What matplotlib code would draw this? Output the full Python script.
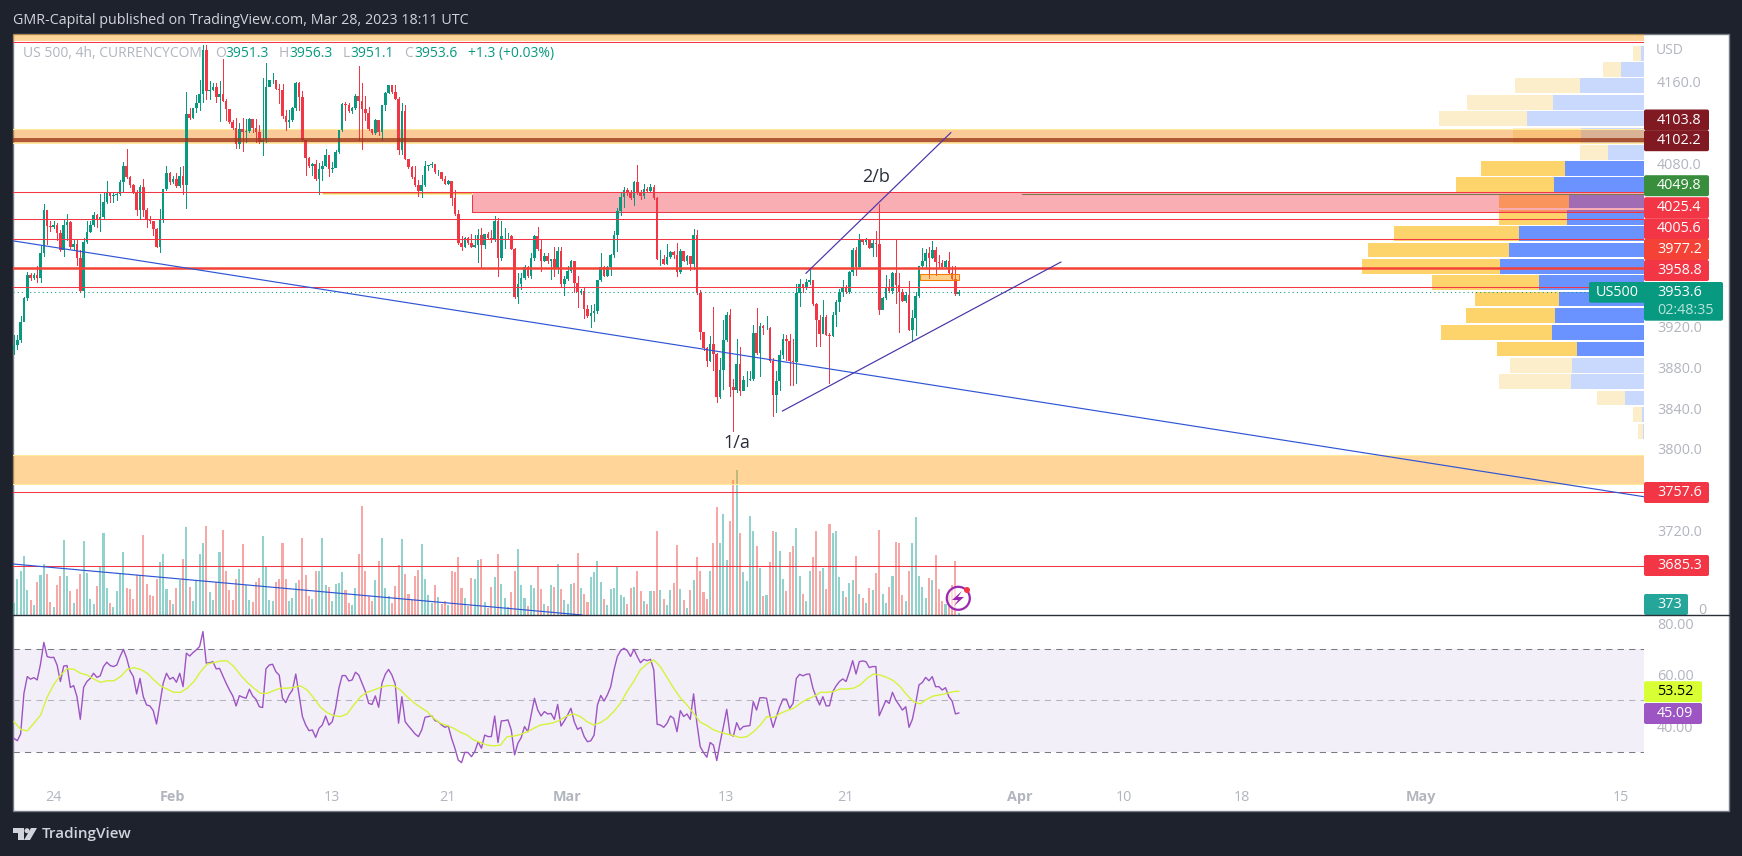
"""US 500 4h chart with volume profile and RSI, TradingView look."""

import matplotlib
matplotlib.use("Agg")
import matplotlib.pyplot as plt
import numpy as np
from matplotlib.patches import Circle, FancyBboxPatch, Polygon, Rectangle

plt.rcParams["font.family"] = "Open Sans"

W, H = 1742, 856

# OHLC, one value per 4h bar
first_open = 3897
closes = [
    3902, 3907, 3924, 3948, 3970.5, 3967.5, 3970.5, 3968, 3992, 4034,
    4019, 4018, 4020, 4012, 3995, 4020, 4022, 3998, 4001, 3987,
    3955, 4003, 4013, 4020, 4029, 4024, 4027, 4042, 4051.5, 4048,
    4048.5, 4050, 4062, 4077, 4067, 4059, 4052, 4034, 4057, 4034,
    4024, 4023, 4016, 3998, 4024, 4055, 4070, 4062, 4065, 4058,
    4068, 4059, 4128, 4124, 4134, 4139, 4148, 4191, 4151, 4152,
    4155, 4145, 4148, 4141, 4133, 4120, 4115, 4099, 4114, 4111,
    4112, 4123, 4115, 4111, 4101, 4103, 4155, 4162, 4162, 4153,
    4152, 4126, 4120, 4122, 4134, 4159, 4145, 4103, 4085, 4077,
    4079, 4065, 4074, 4077, 4088, 4074, 4075, 4091, 4113, 4138,
    4137, 4131, 4134, 4146, 4141, 4133, 4129, 4114, 4110, 4122,
    4111, 4137, 4149, 4157, 4150, 4143, 4093, 4131, 4084, 4076,
    4067, 4059, 4053, 4059, 4077, 4078, 4079, 4071, 4071, 4065,
    4060, 4063, 4046, 4030, 4002, 3998, 4007, 4002, 3998, 4000,
    4010, 4000, 4011, 4007, 4006, 4023, 3987, 4009, 4009, 4009,
    3996, 3949, 3962, 3968, 3978, 3970, 3987, 4009, 3996, 3984,
    3989, 3984, 3986, 3977, 3994, 3962, 3967, 3974, 3984, 3963,
    3954, 3955, 3937, 3930, 3933, 3935, 3966, 3978, 3970, 3978,
    3990, 4010, 4033, 4047, 4054, 4051, 4046, 4062, 4051, 4048,
    4055, 4053, 4057, 4046, 3986, 3986, 3981, 3988, 3993, 3990,
    3973, 3994, 3984, 3989, 3981, 4010, 3953, 3915, 3899, 3886,
    3903, 3893, 3851, 3877, 3907, 3931, 3861, 3858, 3883, 3857,
    3868, 3868, 3869, 3914, 3894, 3921, 3919, 3919, 3886, 3853,
    3867, 3892, 3908, 3906, 3886, 3885, 3953, 3962, 3959, 3964,
    3966, 3942, 3926, 3913, 3929, 3912, 3911, 3931, 3944.5, 3954,
    3959, 3954, 3973, 3995, 3978, 4005, 4003, 4005, 3997, 4002,
    4001, 3936, 3948, 3959, 3955, 3972, 3961, 3954, 3945, 3951,
    3917, 3928, 3950, 3979, 3984, 3992, 3987, 3995, 3983, 3982,
    3978, 3984, 3972, 3967, 3952, 3953.6,
]
highs = [
    3912, 3912, 3930, 3949, 3973, 3972, 3972, 3979, 3999, 4040,
    4034, 4023, 4023, 4021, 4015, 4025, 4030, 4023, 4005, 4005,
    3995, 4007, 4023, 4023, 4032, 4030, 4050, 4052, 4063, 4050,
    4051, 4051, 4064, 4081, 4094, 4068, 4060, 4054, 4059, 4065,
    4036, 4028, 4023, 4017, 4035, 4055, 4077, 4071, 4068, 4070,
    4076, 4077, 4150, 4134, 4134, 4147, 4162, 4196, 4196, 4161,
    4159, 4159, 4161, 4182, 4143, 4130, 4122, 4124, 4119, 4124,
    4123, 4124, 4122, 4123, 4118, 4164, 4178, 4162, 4168, 4162,
    4158, 4158, 4132, 4132, 4135, 4160, 4160, 4151, 4103, 4086,
    4080, 4083, 4080, 4082, 4094, 4088, 4081, 4093, 4113, 4139,
    4140, 4139, 4135, 4148, 4175, 4159, 4146, 4135, 4114, 4123,
    4121, 4137, 4150, 4157, 4157, 4157, 4145, 4139, 4137, 4084,
    4077, 4077, 4064, 4069, 4082, 4078, 4081, 4079, 4073, 4071,
    4068, 4064, 4063, 4054, 4034, 4009, 4008, 4008, 4011, 4010,
    4016, 4017, 4011, 4013, 4015, 4028, 4026, 4023, 4017, 4012,
    4010, 3997, 3972, 3972, 3980, 3979, 3992, 4010, 4018, 4005,
    3992, 3992, 3986, 3998, 3998, 3998, 3970, 3979, 3985, 3983,
    3970, 3957, 3959, 3941, 3941, 3942, 3966, 3992, 3979, 3979,
    3991, 4014, 4036, 4051, 4057, 4056, 4054, 4063, 4078, 4054,
    4060, 4057, 4060, 4059, 4047, 3995, 3990, 4001, 3994, 3994,
    4002, 3996, 3994, 3990, 3988, 4016, 4015, 3956, 3912, 3900,
    3911, 3939, 3894, 3889, 3926, 3934, 3937, 3869, 3908, 3900,
    3871.5, 3876, 3876, 3922, 3938, 3923, 3922, 3930, 3920, 3889,
    3876, 3897, 3913, 3912, 3913, 3908, 3962, 3967, 3962, 3967,
    3977, 3966, 3943, 3931, 3946, 3931, 3914, 3934, 3946, 3957,
    3966, 3961, 3974, 3997, 3998, 4011, 4006, 4007, 4005, 4005,
    4014, 4040, 3949, 3971, 3967, 3973, 4005, 3972, 3957, 3954,
    3965, 3936, 3954, 3979, 3997, 3996, 3998, 4004, 3998, 3990,
    3985, 3985, 3993, 3979, 3979, 3956.3,
]
lows = [
    3893, 3898, 3905, 3930, 3946, 3966, 3967, 3964, 3964, 3989,
    4001, 4014, 4017, 4005, 3994, 3989, 4005, 3997, 3996, 3980,
    3954, 3949, 4002, 4013, 4019, 4018, 4014, 4026, 4041, 4042,
    4042, 4044, 4049, 4053, 4066, 4057, 4051, 4029, 4025, 4028,
    4018, 4021, 4010, 3998, 3993, 4022, 4054, 4060, 4061, 4057,
    4057, 4050, 4036, 4123, 4124, 4130, 4132, 4140, 4143, 4143,
    4152, 4140, 4121, 4141, 4122, 4119, 4114, 4095, 4095, 4092,
    4101, 4111, 4111, 4101, 4100, 4088, 4101, 4157, 4159, 4153,
    4139, 4124, 4113, 4116, 4121, 4132, 4132, 4102, 4069, 4076,
    4069, 4064, 4050, 4064, 4077, 4068, 4071, 4076, 4090, 4112,
    4122, 4130, 4129, 4133, 4103, 4094, 4122, 4113, 4109, 4109,
    4108, 4103, 4132, 4149, 4149, 4143, 4089, 4089, 4084, 4075,
    4066, 4058, 4048, 4047, 4058, 4073, 4076, 4070, 4069, 4064,
    4060, 4060, 4039, 4029, 4001, 3995, 3998, 4001, 3998, 3998,
    3983, 3978, 3997, 4006, 4003, 4004, 3970, 3985, 3997, 4007,
    3996, 3948, 3943, 3957, 3967, 3969, 3968, 3985, 3995, 3974,
    3984, 3982, 3967, 3970, 3972, 3960, 3951, 3966, 3973, 3954,
    3939, 3952, 3928, 3929, 3920, 3925, 3933, 3965, 3970, 3970,
    3971, 3988, 3994, 4029, 4037, 4049, 4045, 4039, 4050, 4045,
    4046, 4053, 4052, 4045, 3986, 3980, 3981, 3981, 3987, 3987,
    3970, 3972, 3984, 3981, 3975, 3976, 3952, 3908, 3897, 3881,
    3886, 3877, 3846, 3850, 3859, 3906, 3852, 3818, 3856, 3853,
    3861, 3862, 3868, 3868, 3893, 3872, 3913, 3918, 3885, 3832,
    3836, 3858, 3889, 3887, 3863, 3863, 3865, 3940, 3954, 3957,
    3962, 3941, 3901, 3901, 3928, 3912, 3865, 3911, 3921, 3935,
    3950, 3953, 3953, 3971, 3971, 3978, 4001, 4001, 3997, 3989,
    3989, 3932, 3937, 3947, 3954, 3953, 3943, 3915, 3945, 3944,
    3917, 3906, 3912, 3949, 3977, 3977, 3968, 3987, 3971, 3978,
    3977, 3978, 3972, 3966, 3951, 3951.1,
]
volumes = [
    1750, 5400, 6600, 8850, 3750, 2250, 1500, 4950, 6000, 7650,
    6150, 1950, 1200, 4500, 5850, 11250, 5850, 3600, 1800, 3900,
    6150, 11100, 6300, 2400, 1650, 4350, 7350, 12300, 4050, 1800,
    1200, 3600, 6150, 9450, 4050, 3900, 2400, 6000, 6000, 12000,
    4650, 3000, 2850, 5400, 7950, 9150, 3900, 2250, 1650, 4050,
    5250, 8400, 13200, 4200, 2100, 5250, 9150, 10800, 13350, 3450,
    2250, 4950, 9450, 12750, 6600, 3750, 2250, 5400, 6900, 10650,
    4500, 2250, 1950, 4950, 5550, 11850, 7350, 2250, 2100, 4950,
    5400, 10800, 5400, 2100, 2550, 4800, 5250, 11550, 6000, 2850,
    2400, 6600, 6600, 11550, 4500, 4200, 2100, 4650, 4800, 6450,
    3750, 1800, 1500, 4050, 9150, 16350, 6600, 2850, 2100, 5250,
    8100, 11550, 4050, 2850, 1800, 4350, 7500, 11400, 6150, 3150,
    2250, 5850, 6750, 10650, 5400, 3000, 1800, 4500, 2700, 1650,
    2100, 1500, 6600, 6450, 8700, 4050, 2550, 1350, 5550, 5400,
    8250, 8400, 1950, 1050, 4200, 5700, 9150, 4650, 2550, 1250,
    3450, 6600, 9900, 4500, 2550, 1350, 4500, 4050, 7350, 3900,
    1650, 1350, 4500, 4200, 7650, 3900, 2250, 1650, 4650, 4800,
    9300, 4050, 3150, 1950, 5700, 6450, 8100, 4950, 2400, 1500,
    3900, 4050, 7350, 3000, 2700, 1650, 4050, 4200, 6600, 3600,
    2100, 1650, 3600, 3600, 12600, 3750, 2400, 1500, 3750, 4800,
    10500, 3900, 2250, 1050, 3750, 5250, 8700, 6600, 3450, 2400,
    6600, 10800, 16200, 10800, 15150, 8250, 14100, 20250, 21750, 12300,
    6450, 5100, 14850, 12600, 10350, 7050, 2850, 3000, 7950, 12600,
    12450, 9600, 5400, 3600, 9450, 10350, 13050, 5850, 3150, 2100,
    6600, 8700, 12600, 6600, 7050, 3900, 13650, 12300, 12600, 5700,
    3600, 2700, 4800, 5250, 8850, 3150, 2550, 1800, 4050, 3750,
    6300, 12750, 3150, 1800, 4200, 5850, 10950, 10800, 3000, 2100,
    6600, 10800, 14700, 5850, 4200, 2550, 5550, 5250, 9000, 3900,
    2100, 1650, 3000, 4500, 8100, 373,
]
rsi_values = [
    35.2, 34.3, 36.9, 52.7, 59.2, 58.2, 58.8, 57.9, 64.1, 72.5,
    67, 66.6, 66.7, 63.7, 57.3, 63.3, 63.5, 55, 55.7, 51.4,
    42.6, 55, 57.3, 58.5, 60.5, 58.9, 59.5, 63.1, 64.8, 63.5,
    63.1, 63.7, 67, 69.8, 66.3, 61.4, 59.2, 52.5, 58.5, 51.4,
    48.2, 47.8, 46, 40.8, 48.8, 56.6, 60.5, 58.2, 58.9, 57,
    60.5, 55.3, 68.3, 67.2, 68.5, 69.6, 70.9, 76.7, 64.4, 64.6,
    65, 62.2, 62.4, 59.5, 56.6, 54, 51.7, 47.8, 51.8, 51.2,
    50.8, 54.3, 51.7, 50.4, 47.5, 47.2, 62.2, 63.7, 64, 61.1,
    59.8, 50.8, 49.1, 52.1, 54, 60.2, 52.1, 43.7, 40.4, 38.2,
    38.5, 35.6, 39.1, 40.4, 43.9, 40.4, 41.7, 46.9, 54.7, 59.6,
    59.6, 57.5, 57.9, 60.9, 59.8, 56.6, 53.4, 48.8, 48.4, 51.7,
    47.3, 56.6, 60.1, 62, 59.8, 56.3, 41.1, 51.4, 41.7, 40,
    38.5, 36.9, 35.9, 38.5, 43.4, 43.7, 44, 42.1, 41.7, 40.4,
    39.5, 40, 35.2, 31.4, 26.8, 25.8, 29.8, 29.7, 28.1, 30.1,
    33.9, 31.4, 36.5, 35.9, 35.9, 43.9, 33.6, 42,
    42.1, 42.4, 38.5, 28.8, 33.3, 35.5, 39.8, 37.8, 44.3, 50.8,
    46.2, 43.9, 45.6, 44.7, 44.9, 42.6, 48.4, 40, 42, 44.3,
    46.9, 41.7, 38.7, 39.5, 35.9, 33.9, 34.3, 36.5, 48.2, 51.9,
    49.7, 52.1, 55.3, 61.8, 67, 69.3, 70.2, 69.3, 67, 69.8,
    67, 64.6, 65.9, 65.4, 65.9, 61.8, 40.7, 40.4, 39.5, 41.1,
    43.9, 43, 37.8, 46, 43.7, 44.7, 42.6, 52.5, 41.1, 32,
    29.7, 27.9, 33.6, 32.6, 26.6, 33.6, 39.8, 46.5, 36.8, 36.1,
    41.3, 38.5, 39.8, 40, 40.2, 49.5, 46.2, 51, 51, 50.8,
    44.3, 39.5, 43.7, 47.5, 50.5, 50.4, 46.9, 48.8, 58.5, 60.1,
    59.5, 60.1, 60.2, 54.7, 51.2, 48.2, 51.4, 47.8, 47.9, 53.4,
    55.6, 57.3, 58.3, 57.3, 61.1, 65.4, 60.2, 65, 65.3, 65,
    62.7, 63.1, 63.1, 44, 46.9, 49.9, 48.8, 53.1, 50.1, 48.2,
    46.2, 47.5, 39.5, 42.6, 48.8, 56, 56.9, 58.9, 57.6, 59.2,
    55.3, 55.3, 54, 54.9, 51.4, 49.7, 44.7, 45.09,
]
# RSI average, read every second bar
rsi_ma_values = [
    41.7, 38.7, 38.1, 41.1, 44.3, 51.4, 56.2, 59.8, 62.3, 62,
    60.5, 59.8, 58.2, 57, 57.6, 57.6, 59.2, 62, 62.7, 62,
    60.5, 57.9, 55.6, 54.3, 53.1, 53.1, 54.7, 57.3, 61.1, 64.1,
    64.6, 65.3, 65.3, 63.1, 59.8, 57, 54.7, 52.7, 52.7, 53.8,
    54.7, 54.7, 55, 55.6, 54, 50.8, 47.3, 45.2, 44, 43.7,
    44.7, 48.2, 51.4, 53.1, 54, 55, 55.7, 55.7, 54, 51.4,
    49.1, 47.3, 45.6, 43, 41.1, 40.2, 39.1, 37.6, 36.5, 34.6,
    33.6, 32.6, 32.3, 32.6,
    35.9, 36.1, 36.7, 37.8, 39.1, 40.4, 40.8, 41.3, 42.4, 44,
    44.7, 43.7, 41.7, 40.4, 41.3, 43, 45.6, 48.8, 53.4, 57.3,
    61.8, 64.1, 65.7, 63.1, 58.9, 54.7, 51, 48.2, 44.9, 41.5,
    40.2, 38.5, 37.6, 36.9, 36.3, 35.5, 35.9, 37.8, 40.4, 43.7,
    43.3, 44.9, 46, 46.9, 48.8, 50.4, 51.4, 53.1, 53.1, 53.4,
    54.4, 54.4, 54.7, 56, 58.5, 60.2, 59.8, 58.9, 57.6, 55.3,
    52.1, 49.5, 48.6, 50.4, 51.7, 52.1, 52.7, 53.4, 53.52,
]

# Volume profile rows, top to bottom
vp_prices = [
    4188, 4172, 4156, 4140, 4124, 4107, 4091, 4075, 4059, 4043, 4027, 4011,
    3995, 3979, 3963, 3947, 3931, 3914, 3898, 3882, 3866, 3850, 3834, 3817,
]
vp_up = [3, 23, 64, 91, 117, 63, 36, 79, 90, 75, 77, 125,
         135, 144, 105, 85, 89, 92, 67, 72, 73, 19, 2, 1]
vp_down = [8, 18, 65, 86, 88, 68, 28, 84, 98, 70, 68, 125,
           141, 138, 107, 84, 89, 111, 80, 62, 72, 28, 9, 5]
vp_value_area = [False] * 7 + [True] * 12 + [False] * 5

# Horizontal levels
level_prices = [4198.4, 4051.5, 4025.4, 4005.6, 3958.8, 3757.6, 3685.3]
thick_level = 3977.2
dark_levels = [4103.8, 4102.2]
last_price = 3953.6
olive_level = 4049.8

price_ticks = [4160, 4080, 3920, 3880, 3840, 3800, 3720]
rsi_ticks = [80, 60, 40]
time_tick_bars = [11.8, 47.7, 95.9, 130.6, 166.8, 214.8, 250.7, 303.5, 334.8, 370.4, 424.4, 484.7]
time_tick_labels = ["24", "Feb", "13", "21", "Mar", "13", "21", "Apr", "10", "18", "May", "15"]

# Drawn trend lines (bar number, price)
trend_long_x, trend_long_y = [-0.3, 491.7], [4004, 3753.2]
trend_vol_x, trend_vol_y = [-0.3, 171.3], [3687.3, 3637.3]
wedge_up_x, wedge_up_y = [238.9, 282.6], [3972.2, 4110]
wedge_low_x, wedge_low_y = [231.8, 315.8], [3837.2, 3983.2]

GREEN = "#089981"
RED = "#F23645"
GREY = "#B2B5BE"
DARK = "#1E222D"
THIN = 0.75  # about one pixel at dpi 100


def pane(left, top, right, bottom, zorder):
    a = fig.add_axes([left / W, 1 - bottom / H, (right - left) / W, (bottom - top) / H])
    a.set_zorder(zorder)
    a.patch.set_visible(False)
    a.set_xlim(-0.3, 491.7)
    for s in a.spines.values():
        s.set_visible(False)
    return a


def tag(x0, x1, yc, text, color, text_color="white", h=21, text_x=None):
    over.add_patch(FancyBboxPatch((x0, yc - h / 2), x1 - x0, h, boxstyle="round,pad=0,rounding_size=2",
                                  facecolor=color, edgecolor="none"))
    over.text(text_x if text_x else x0 + 13, yc, text, color=text_color, fontsize=10.4, va="center", ha="left")


fig = plt.figure(figsize=(W / 100, H / 100), dpi=100, facecolor=DARK)

# white panel under everything
bg = fig.add_axes([0, 0, 1, 1])
bg.set_zorder(0)
bg.set_xlim(0, W)
bg.set_ylim(H, 0)
bg.axis("off")
bg.add_patch(Rectangle((13, 34), 1716, 777, facecolor="white", edgecolor="#787B86", linewidth=1))

L, R, TOP, MID, BOT = 13, 1644, 34, 615, 780
price_lim = (3637.3, 4206.7)

ax_vp = pane(L, TOP, R, MID, 1)
ax_vol = pane(L, TOP, R, MID, 2)
ax = pane(L, TOP, R, MID, 3)
ax_rsi = pane(L, MID, R, BOT, 3)

# volume profile, hanging off the right edge
ax_vp.set_ylim(*price_lim)
ax_vp.set_xlim(R - L, 0)
ax_vp.axis("off")
blue = ["#6A93FF" if v else "#C9D8FD" for v in vp_value_area]
yellow = ["#FDD36C" if v else "#FDEECB" for v in vp_value_area]
ax_vp.barh(vp_prices, vp_up, height=14.6, color=blue)
ax_vp.barh(vp_prices, vp_down, left=vp_up, height=14.6, color=yellow)

closes_a = np.array(closes, dtype=float)
opens_a = np.concatenate([[first_open], closes_a[:-1]])
highs_a = np.array(highs, dtype=float)
lows_a = np.array(lows, dtype=float)
bars = np.arange(len(closes_a))
up = closes_a >= opens_a

# volume
ax_vol.set_ylim(0, 87150)
ax_vol.axis("off")
ax_vol.bar(bars, volumes, width=0.62, color=np.where(up, "#26A69A", "#EF5350"), alpha=0.5, linewidth=0)

# zones behind candles
ax.set_ylim(*price_lim)
ax.axhspan(4199.5, price_lim[1], facecolor="#FF9800", alpha=0.4, linewidth=0, zorder=1)
ax.axhspan(4099.6, 4113.3, facecolor="#F57C00", alpha=0.4, linewidth=0, zorder=1)
for v in (4099.6, 4113.3):
    ax.axhline(v, color="#FFEB99", linewidth=THIN, zorder=1)
ax.axhspan(3765.4, 3794.1, facecolor="#FF9800", alpha=0.4, linewidth=0, zorder=1)
for v in (3765.4, 3794.1):
    ax.axhline(v, color="#FFEB99", linewidth=THIN, zorder=1)
ax.add_patch(Rectangle((138.2, 4032), 354, 19.5, facecolor=RED, alpha=0.4, linewidth=0, zorder=1))
ax.plot([138.2, 138.2, 492], [4051.5, 4032, 4032], color=RED, linewidth=THIN, zorder=2)
ax.add_patch(Rectangle((93, 4049.5), 45.2, 2.5, facecolor="#E8B85A", edgecolor="#FFF0A0", linewidth=THIN, zorder=2))
ax.plot([304, 491.7], [olive_level, olive_level], color="#787B4E", linewidth=THIN, zorder=2)

# candles
body_low = np.minimum(opens_a, closes_a)
body_h = np.abs(closes_a - opens_a)
colors = np.where(up, GREEN, RED)
ax.vlines(bars, lows_a, highs_a, colors=colors, linewidth=0.72, antialiased=False, zorder=4)
ax.bar(bars, body_h, bottom=body_low, width=0.78, color=colors, linewidth=0, antialiased=False, zorder=4)

# level lines
for v in level_prices:
    ax.axhline(v, color=RED, linewidth=THIN, zorder=5)
ax.axhline(thick_level, color="#F44336", linewidth=1.8, zorder=5)
for v in dark_levels:
    ax.axhline(v, color="#9A3518", linewidth=1.1, zorder=5)
ax.axhline(last_price, color=GREEN, linewidth=THIN, linestyle=(0, (1, 3)), zorder=5)

ax.add_patch(Rectangle((273.2, 3965.9), 11.8, 5.3, facecolor="#FF9800", alpha=0.45, edgecolor="none", zorder=5))
ax.add_patch(Rectangle((273.2, 3965.9), 11.8, 5.3, fill=False, edgecolor="#F57C00", linewidth=THIN, zorder=5))

# trend lines
ax.plot(trend_long_x, trend_long_y, color="#2F55D4", linewidth=0.85, zorder=6)
ax.plot(trend_vol_x, trend_vol_y, color="#2F55D4", linewidth=0.85, zorder=6)
ax.plot(wedge_up_x, wedge_up_y, color="#4A32A8", linewidth=0.85, zorder=6)
ax.plot(wedge_low_x, wedge_low_y, color="#4A32A8", linewidth=0.85, zorder=6)

ax.text(260, 4066.5, "2/b", fontsize=13, color="#2A2E39", ha="center", va="center", zorder=7)
ax.text(218, 3806, "1/a", fontsize=13, color="#2A2E39", ha="center", va="center", zorder=7)

ax.yaxis.tick_right()
ax.set_yticks(price_ticks)
ax.set_yticklabels([f"{v:.1f}" for v in price_ticks])
ax.tick_params(axis="y", length=0, pad=9.4, labelcolor=GREY, labelsize=10.4)
ax.tick_params(axis="x", bottom=False, labelbottom=False)

# RSI pane
ax_rsi.set_ylim(50 - (BOT - 700.3) / 2.575, 50 + (700.3 - MID) / 2.575)
ax_rsi.axhspan(30, 70, facecolor="#7E57C2", alpha=0.09, linewidth=0)
ax_rsi.axhline(70, color="#787B86", linewidth=THIN, linestyle=(0, (6, 5)))
ax_rsi.axhline(30, color="#787B86", linewidth=THIN, linestyle=(0, (6, 5)))
ax_rsi.axhline(50, color="#B2B5BE", linewidth=THIN, linestyle=(0, (6, 5)))
ax_rsi.plot(np.arange(len(rsi_values)), rsi_values, color="#9C55C2", linewidth=1)
ma_x = np.append(np.arange(len(rsi_ma_values) - 1) * 2.01, 285)
ax_rsi.plot(ma_x, rsi_ma_values, color="#D4F43A", linewidth=1)

ax_rsi.yaxis.tick_right()
ax_rsi.set_yticks(rsi_ticks)
ax_rsi.set_yticklabels([f"{v:.2f}" for v in rsi_ticks])
ax_rsi.tick_params(axis="y", length=0, pad=9.4, labelcolor=GREY, labelsize=10.4)
ax_rsi.set_xticks(time_tick_bars)
ax_rsi.set_xticklabels(time_tick_labels)
ax_rsi.tick_params(axis="x", length=0, pad=7, labelcolor=GREY, labelsize=10.4)
for lab in ax_rsi.get_xticklabels():
    if lab.get_text() in ("Feb", "Mar", "Apr", "May"):
        lab.set_fontweight("bold")

# overlay in screen pixels for the chrome
over = fig.add_axes([0, 0, 1, 1])
over.set_zorder(6)
over.set_xlim(0, W)
over.set_ylim(H, 0)
over.axis("off")
over.patch.set_visible(False)

over.plot([13, 1729], [615, 615], color="#2A2E39", linewidth=1)

over.text(13, 20, "GMR-Capital published on TradingView.com, Mar 28, 2023 18:11 UTC",
          color="#D1D4DC", fontsize=10.3, va="center")

legend_y = 53.5
over.text(23, legend_y, "US 500, 4h, CURRENCYCOM", color=GREY, fontsize=10, va="center")
for x, key, x_val, val in [(215, "O", 225, "3951.3"), (278.5, "H", 289, "3956.3"),
                           (342.5, "L", 350, "3951.1"), (404.5, "C", 414, "3953.6")]:
    over.text(x, legend_y, key, color=GREY, fontsize=10, va="center")
    over.text(x_val, legend_y, val, color=GREEN, fontsize=10, va="center")
over.text(467.5, legend_y, "+1.3 (+0.03%)", color=GREEN, fontsize=10, va="center")

over.text(1656, 50.7, "USD", color=GREY, fontsize=10, va="center")
over.text(1698, 611, "0", color=GREY, fontsize=10.4, va="center")

R_TAG = 1709
tag(R, R_TAG, 120, "4103.8", "#801922")
tag(R, R_TAG, 140.7, "4102.2", "#801922")
tag(R, R_TAG, 185.7, "4049.8", "#388E3C")
tag(R, R_TAG, 207.7, "4025.4", RED)
tag(R, R_TAG, 228.7, "4005.6", RED)
tag(R, R_TAG, 249.5, "3977.2", "#F44336")
tag(R, R_TAG, 270.5, "3958.8", RED)
tag(R, R_TAG, 492.5, "3757.6", RED)
tag(R, R_TAG, 565.5, "3685.3", RED)
tag(R, 1688, 604.5, "373", "#26A69A")
tag(R, 1702, 691.7, "53.52", "#D7FF33", text_color="black")
tag(R, 1702, 713.5, "45.09", "#9C55C2")

over.add_patch(FancyBboxPatch((1589, 282), 60, 20.7, boxstyle="round,pad=0,rounding_size=2",
                              facecolor=GREEN, edgecolor="none"))
over.add_patch(FancyBboxPatch((R, 282), 79, 38.7, boxstyle="round,pad=0,rounding_size=2",
                              facecolor=GREEN, edgecolor="none"))
over.text(1595.5, 292.5, "US500", color="white", fontsize=10.4, va="center")
over.text(1657, 292.5, "3953.6", color="white", fontsize=10.4, va="center")
over.text(1657, 311, "02:48:35", color="#B8E4DC", fontsize=10.4, va="center")

# alert icon
over.add_patch(Circle((958.3, 598.3), 11.5, facecolor=(1, 1, 1, 0.6), edgecolor="#9C27B0", linewidth=1.6))
over.add_patch(Polygon([(962, 591), (952, 600), (958, 600), (954, 606), (964, 597), (958, 597)],
                       facecolor="#9C27B0", edgecolor="none"))
over.add_patch(Circle((967, 590), 3, facecolor=RED, edgecolor="none"))

# TradingView logo
logo = "#D1D4DC"
over.add_patch(Polygon([(13, 828), (24, 828), (24, 840), (18, 840), (18, 833), (13, 833)],
                       facecolor=logo, edgecolor="none"))
over.add_patch(Circle((27, 830.7), 2.5, facecolor=logo, edgecolor="none"))
over.add_patch(Polygon([(31, 828), (37, 828), (30, 840), (24, 840)], facecolor=logo, edgecolor="none"))
over.text(42, 834, "TradingView", color=logo, fontsize=11, va="center", fontweight="semibold")

fig.savefig("out.png", dpi=100, facecolor=DARK)
plt.close(fig)
